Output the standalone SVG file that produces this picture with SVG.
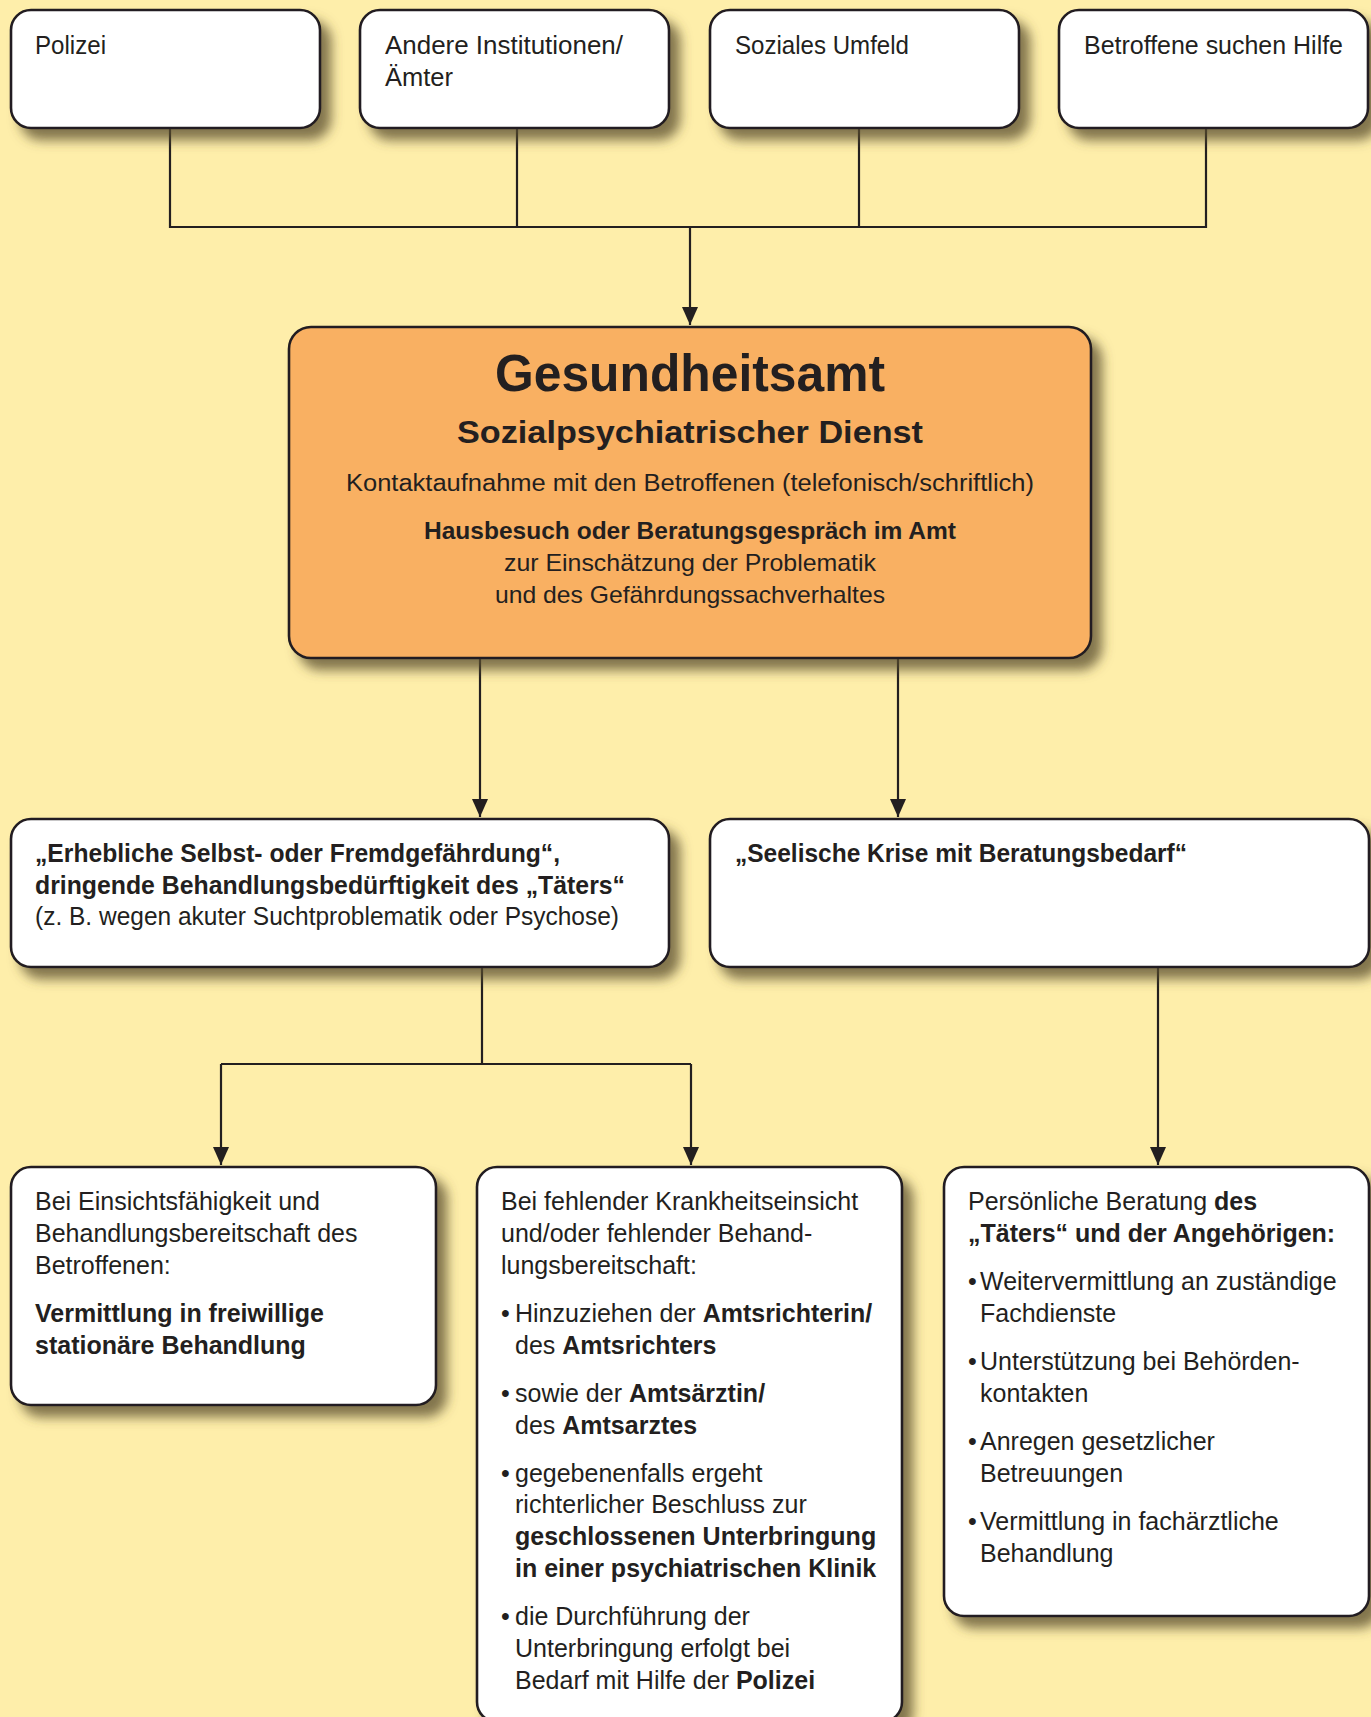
<svg xmlns="http://www.w3.org/2000/svg" width="1371" height="1717" viewBox="0 0 1371 1717">
  <defs>
    <filter id="sh" x="-10%" y="-10%" width="130%" height="140%">
      <feDropShadow dx="10" dy="11" stdDeviation="6" flood-color="#5a4e2e" flood-opacity="0.75"/>
    </filter>
    <marker id="arr" viewBox="0 0 18 16" refX="18" refY="8" markerWidth="18" markerHeight="16" markerUnits="userSpaceOnUse" orient="auto">
      <path d="M0,0 L18,8 L0,16 z" fill="#231f20"/>
    </marker>
    <style>
      .box { fill: #ffffff; stroke: #231f20; stroke-width: 2.6; filter: url(#sh); }
      .main { fill: #f9b062; stroke: #231f20; stroke-width: 2.6; filter: url(#sh); }
      text { font-family: "Liberation Sans", Arial, sans-serif; font-size: 25px; fill: #231f20; }
      .b { font-weight: bold; }
      .c { text-anchor: middle; }
      .link { fill: none; stroke: #231f20; stroke-width: 2.2; }
    </style>
  </defs>

  <rect width="1371" height="1717" fill="#feeeaa"/>

  <!-- connectors -->
  <g id="connectors">
    <!-- sources join into one bus -->
    <polyline class="link" points="170,128 170,227 1206,227 1206,128"/>
    <line class="link" x1="517" y1="128" x2="517" y2="227"/>
    <line class="link" x1="859" y1="128" x2="859" y2="227"/>
    <line class="link" x1="690" y1="227" x2="690" y2="325" marker-end="url(#arr)"/>
    <!-- office to the two assessments -->
    <line class="link" x1="480" y1="658" x2="480" y2="817" marker-end="url(#arr)"/>
    <line class="link" x1="898" y1="658" x2="898" y2="817" marker-end="url(#arr)"/>
    <!-- danger branch splits in two -->
    <line class="link" x1="482" y1="967" x2="482" y2="1064"/>
    <line class="link" x1="221" y1="1064" x2="691" y2="1064"/>
    <line class="link" x1="221" y1="1064" x2="221" y2="1165" marker-end="url(#arr)"/>
    <line class="link" x1="691" y1="1064" x2="691" y2="1165" marker-end="url(#arr)"/>
    <!-- crisis branch -->
    <line class="link" x1="1158" y1="967" x2="1158" y2="1165" marker-end="url(#arr)"/>
  </g>

  <!-- referral sources -->
  <g id="polizei">
    <rect class="box" x="11" y="10" width="309" height="118" rx="20"/>
    <text x="35" y="54" textLength="71" lengthAdjust="spacingAndGlyphs">Polizei</text>
  </g>
  <g id="andere-institutionen">
    <rect class="box" x="360" y="10" width="309" height="118" rx="20"/>
    <text x="385" y="54" textLength="238" lengthAdjust="spacingAndGlyphs">Andere Institutionen/</text>
    <text x="385" y="86" textLength="68" lengthAdjust="spacingAndGlyphs">Ämter</text>
  </g>
  <g id="soziales-umfeld">
    <rect class="box" x="710" y="10" width="309" height="118" rx="20"/>
    <text x="735" y="54" textLength="174" lengthAdjust="spacingAndGlyphs">Soziales Umfeld</text>
  </g>
  <g id="betroffene">
    <rect class="box" x="1059" y="10" width="309" height="118" rx="20"/>
    <text x="1084" y="54" textLength="259" lengthAdjust="spacingAndGlyphs">Betroffene suchen Hilfe</text>
  </g>

  <!-- central office -->
  <g id="gesundheitsamt">
    <rect class="main" x="289" y="327" width="802" height="331" rx="22"/>
    <text class="b c" x="690" y="391" style="font-size:52px" textLength="390" lengthAdjust="spacingAndGlyphs">Gesundheitsamt</text>
    <text class="b c" x="690" y="443" style="font-size:32px" textLength="466" lengthAdjust="spacingAndGlyphs">Sozialpsychiatrischer Dienst</text>
    <text class="c" x="690" y="491" style="font-size:23px" textLength="688" lengthAdjust="spacingAndGlyphs">Kontaktaufnahme mit den Betroffenen (telefonisch/schriftlich)</text>
    <text class="b c" x="690" y="539" style="font-size:24px" textLength="532" lengthAdjust="spacingAndGlyphs">Hausbesuch oder Beratungsgespräch im Amt</text>
    <text class="c" x="690" y="571" style="font-size:24px" textLength="372" lengthAdjust="spacingAndGlyphs">zur Einschätzung der Problematik</text>
    <text class="c" x="690" y="603" style="font-size:24px" textLength="390" lengthAdjust="spacingAndGlyphs">und des Gefährdungssachverhaltes</text>
  </g>

  <!-- assessment outcomes -->
  <g id="gefaehrdung">
    <rect class="box" x="11" y="819" width="658" height="148" rx="20"/>
    <text class="b" x="35" y="862" textLength="525" lengthAdjust="spacingAndGlyphs">„Erhebliche Selbst- oder Fremdgefährdung“,</text>
    <text class="b" x="35" y="894" textLength="590" lengthAdjust="spacingAndGlyphs">dringende Behandlungsbedürftigkeit des „Täters“</text>
    <text x="35" y="925" textLength="584" lengthAdjust="spacingAndGlyphs">(z. B. wegen akuter Suchtproblematik oder Psychose)</text>
  </g>
  <g id="seelische-krise">
    <rect class="box" x="710" y="819" width="659" height="148" rx="20"/>
    <text class="b" x="735" y="862" textLength="452" lengthAdjust="spacingAndGlyphs">„Seelische Krise mit Beratungsbedarf“</text>
  </g>

  <!-- measures -->
  <g id="freiwillig">
    <rect class="box" x="11" y="1167" width="425" height="238" rx="20"/>
    <text x="35" y="1210">Bei Einsichtsfähigkeit und</text>
    <text x="35" y="1242">Behandlungsbereitschaft des</text>
    <text x="35" y="1274">Betroffenen:</text>
    <text class="b" x="35" y="1322">Vermittlung in freiwillige</text>
    <text class="b" x="35" y="1354">stationäre Behandlung</text>
  </g>

  <g id="unterbringung">
    <rect class="box" x="477" y="1167" width="425" height="555" rx="20"/>
    <text x="501" y="1210">Bei fehlender Krankheitseinsicht</text>
    <text x="501" y="1242">und/oder fehlender Behand-</text>
    <text x="501" y="1274">lungsbereitschaft:</text>
    <text x="501" y="1322">•</text>
    <text x="515" y="1322">Hinzuziehen der <tspan class="b">Amtsrichterin/</tspan></text>
    <text x="515" y="1354">des <tspan class="b">Amtsrichters</tspan></text>
    <text x="501" y="1402">•</text>
    <text x="515" y="1402">sowie der <tspan class="b">Amtsärztin/</tspan></text>
    <text x="515" y="1434">des <tspan class="b">Amtsarztes</tspan></text>
    <text x="501" y="1482">•</text>
    <text x="515" y="1482">gegebenenfalls ergeht</text>
    <text x="515" y="1513">richterlicher Beschluss zur</text>
    <text class="b" x="515" y="1545">geschlossenen Unterbringung</text>
    <text class="b" x="515" y="1577">in einer psychiatrischen Klinik</text>
    <text x="501" y="1625">•</text>
    <text x="515" y="1625">die Durchführung der</text>
    <text x="515" y="1657">Unterbringung erfolgt bei</text>
    <text x="515" y="1689">Bedarf mit Hilfe der <tspan class="b">Polizei</tspan></text>
  </g>

  <g id="beratung">
    <rect class="box" x="944" y="1167" width="425" height="449" rx="20"/>
    <text x="968" y="1210">Persönliche Beratung <tspan class="b">des</tspan></text>
    <text class="b" x="968" y="1242">„Täters“ und der Angehörigen:</text>
    <text x="968" y="1290">•</text>
    <text x="980" y="1290">Weitervermittlung an zuständige</text>
    <text x="980" y="1322">Fachdienste</text>
    <text x="968" y="1370">•</text>
    <text x="980" y="1370">Unterstützung bei Behörden-</text>
    <text x="980" y="1402">kontakten</text>
    <text x="968" y="1450">•</text>
    <text x="980" y="1450">Anregen gesetzlicher</text>
    <text x="980" y="1482">Betreuungen</text>
    <text x="968" y="1530">•</text>
    <text x="980" y="1530">Vermittlung in fachärztliche</text>
    <text x="980" y="1562">Behandlung</text>
  </g>
</svg>
